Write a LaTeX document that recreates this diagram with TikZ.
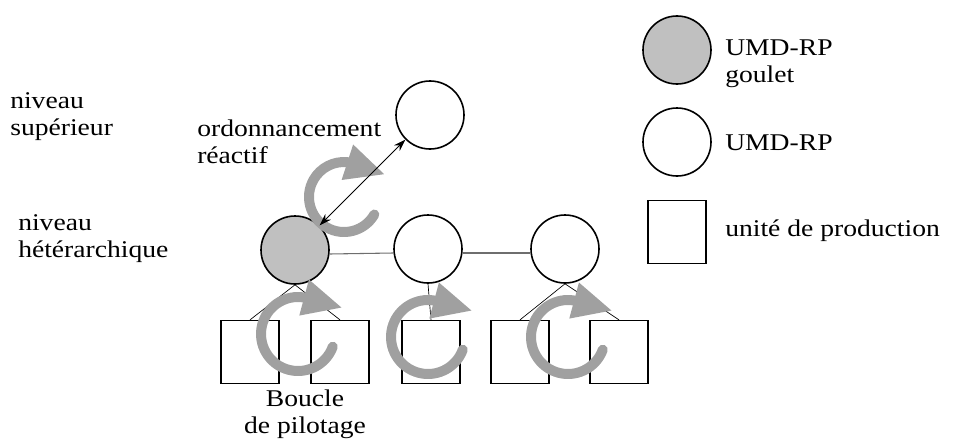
\documentclass[tikz,border=0pt]{standalone}
\usepackage{fontspec}
\setmainfont{Liberation Serif}[FakeStretch=1.15]
\usetikzlibrary{arrows.meta}
\definecolor{loopgray}{RGB}{160,160,160}
\definecolor{nodegray}{RGB}{192,192,192}
\definecolor{linkgray}{RGB}{110,110,110}

\begin{document}
\begin{tikzpicture}[x=0.75pt, y=0.75pt,
  umd/.style={circle, draw, line width=1.2pt, minimum size=51pt, inner sep=0pt, fill=white},
  unit/.style={rectangle, draw, line width=1.2pt, minimum width=43.5pt, minimum height=47pt, inner sep=0pt},
  txt/.style={inner sep=0pt, align=left, font=\fontsize{18}{20}\selectfont},
  loop/.style={loopgray, line width=7.5pt, line cap=round, -{Triangle[length=29pt,width=28pt,line width=0pt]}}]
\useasboundingbox (0,0) rectangle (953,444);

% niveaux
\node[txt, anchor=base west] (sup) at (10,309) {niveau\\supérieur};
\node[txt, anchor=base west] (het) at (18,187) {niveau\\hétérarchique};
\node[txt, anchor=base west] (ord) at (197,281) {ordonnancement\\réactif};
\node[txt, align=center, anchor=base] (boucle) at (305,11) {Boucle\\de pilotage};

% UMD-RP et unites
\node[umd] (top) at (430,329) {};
\node[umd, fill=nodegray] (g) at (295,194) {};
\node[umd] (m) at (428,195) {};
\node[umd] (r) at (565,195) {};
\node[unit] (u1) at (250,92) {};
\node[unit] (u2) at (340,92) {};
\node[unit] (u3) at (431,92) {};
\node[unit] (u4) at (520,92) {};
\node[unit] (u5) at (619,92) {};

\draw[linkgray, line width=0.8pt] ([yshift=-3pt]g.east) -- ([yshift=-3pt]m.west);
\draw[linkgray, line width=0.8pt] ([yshift=-3pt]m.east) -- ([yshift=-3pt]r.west);
\draw[line width=0.5pt] (g.south) -- (u1.north) (g.south) -- (u2.north);
\draw[line width=0.5pt] (m.south) -- (u3.north);
\draw[line width=0.5pt] (r.south) -- (u4.north) (r.south) -- (u5.north);

% boucles
\coordinate (c0) at (344,247);
\coordinate (c1) at (298,110);
\coordinate (c2) at (428,107);
\coordinate (c3) at (568,107);
\draw[loop] (c0) ++(-30:35) arc (-30:-275:35) -- ++(-18:39);
\foreach \c in {c1,c2,c3}
  \draw[loop] (\c) ++(-20:37) arc (-20:-279:37) -- ++(-15:39);
\draw[{Stealth[length=9pt,width=6pt]}-{Stealth[length=9pt,width=6pt]}, line width=0.6pt] (g) -- (top);

% legende
\node[umd, fill=nodegray] (lg) at (677,394) {};
\node[umd] (lw) at (677,302) {};
\node[unit] (lu) at (677,212) {};
\node[txt, anchor=base west] (tg) at (725,362) {UMD-RP\\goulet};
\node[txt, anchor=base west] (tw) at (725,294) {UMD-RP};
\node[txt, anchor=base west] (tu) at (725,208) {unité de production};
\end{tikzpicture}
\end{document}
